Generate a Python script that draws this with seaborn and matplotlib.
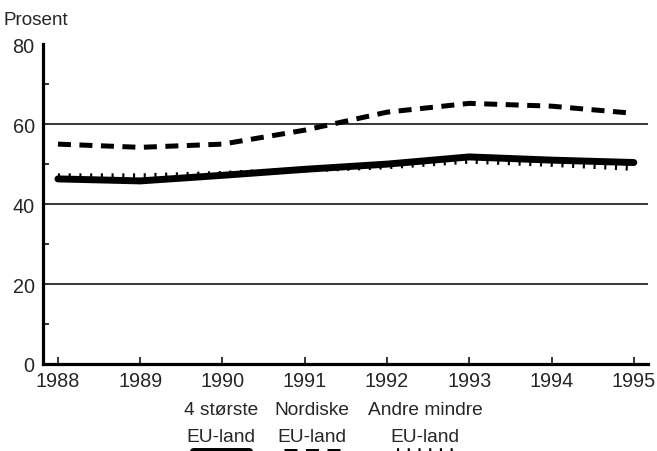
import pandas as pd
import matplotlib.pyplot as plt
import seaborn as sns
from matplotlib.lines import Line2D
from matplotlib.ticker import MultipleLocator

# Data (percent)
years = [1988, 1989, 1990, 1991, 1992, 1993, 1994, 1995]
storste = [46.3, 45.8, 47.2, 48.7, 50.0, 51.8, 51.0, 50.4]
nordiske = [55.0, 54.2, 55.0, 58.5, 63.0, 65.2, 64.5, 62.7]
andre = [47.0, 47.0, 47.6, 48.6, 49.4, 50.8, 50.0, 49.0]

labels = ['4 største\nEU-land', 'Nordiske\nEU-land', 'Andre mindre\nEU-land']
yticks = [0, 20, 40, 60, 80]
grid_levels = [20, 40, 60]

sns.set_style('white')
plt.rcParams['font.family'] = ['Liberation Sans', 'DejaVu Sans']

df = pd.DataFrame({'År': years, 'storste': storste,
                   'nordiske': nordiske, 'andre': andre})

# line styles: solid thick, dashed, comb-like dotted
styles = {
    'storste': dict(lw=5.0, ls='-', dash_capstyle='butt'),
    'nordiske': dict(lw=3.6, ls=(0, (2.6, 1.7)), dash_capstyle='butt'),
    'andre': dict(lw=4.0, ls=(0, (0.38, 1.55)), dash_capstyle='butt'),
}

fig = plt.figure(figsize=(6.57, 4.52), dpi=100)
ax = fig.add_axes([0.0654, 0.1925, 0.9206, 0.7075])

for lvl in grid_levels:
    ax.axhline(lvl, color='black', lw=1.1, zorder=1)

sns.lineplot(data=df, x='År', y='andre', ax=ax, color='black', zorder=3,
             **styles['andre'])
sns.lineplot(data=df, x='År', y='storste', ax=ax, color='black', zorder=4,
             **styles['storste'])
sns.lineplot(data=df, x='År', y='nordiske', ax=ax, color='black', zorder=4,
             **styles['nordiske'])

ax.set_xlim(1987.818, 1995.17)
ax.set_ylim(0, 80)
ax.set_xticks(years)
ax.set_xticklabels([str(y) for y in years])
ax.set_yticks(yticks)
ax.yaxis.set_minor_locator(MultipleLocator(10))
ax.set_xlabel('')
ax.set_ylabel('')

for side in ['top', 'right']:
    ax.spines[side].set_visible(False)
for side in ['left', 'bottom']:
    ax.spines[side].set_linewidth(2.3)
    ax.spines[side].set_color('black')

ax.tick_params(axis='x', direction='in', length=5, width=1.3, labelsize=14.3,
               pad=5, bottom=True)
ax.tick_params(axis='y', which='major', length=0, labelsize=14.3, pad=6)
ax.tick_params(axis='y', which='minor', direction='in', length=4, width=1.3,
               left=True)

fig.text(0.006, 0.935, 'Prosent', fontsize=13.6, ha='left', va='bottom')

# legend below the axis: text with line sample underneath (cut by the edge)
legend_x = [0.336, 0.475, 0.647]
for i, (key, lab) in enumerate(zip(['storste', 'nordiske', 'andre'], labels)):
    fig.text(legend_x[i], 0.091, lab.split('\n')[0], fontsize=13.8,
             ha='center', va='center')
    fig.text(legend_x[i], 0.033, lab.split('\n')[1], fontsize=13.8,
             ha='center', va='center')
    st = styles[key]
    fig.add_artist(Line2D([legend_x[i] - 0.043, legend_x[i] + 0.043],
                          [-0.001, -0.001], color='black', lw=st['lw'],
                          ls=st['ls'], dash_capstyle='butt',
                          transform=fig.transFigure))

fig.savefig('out.png', dpi=100)
